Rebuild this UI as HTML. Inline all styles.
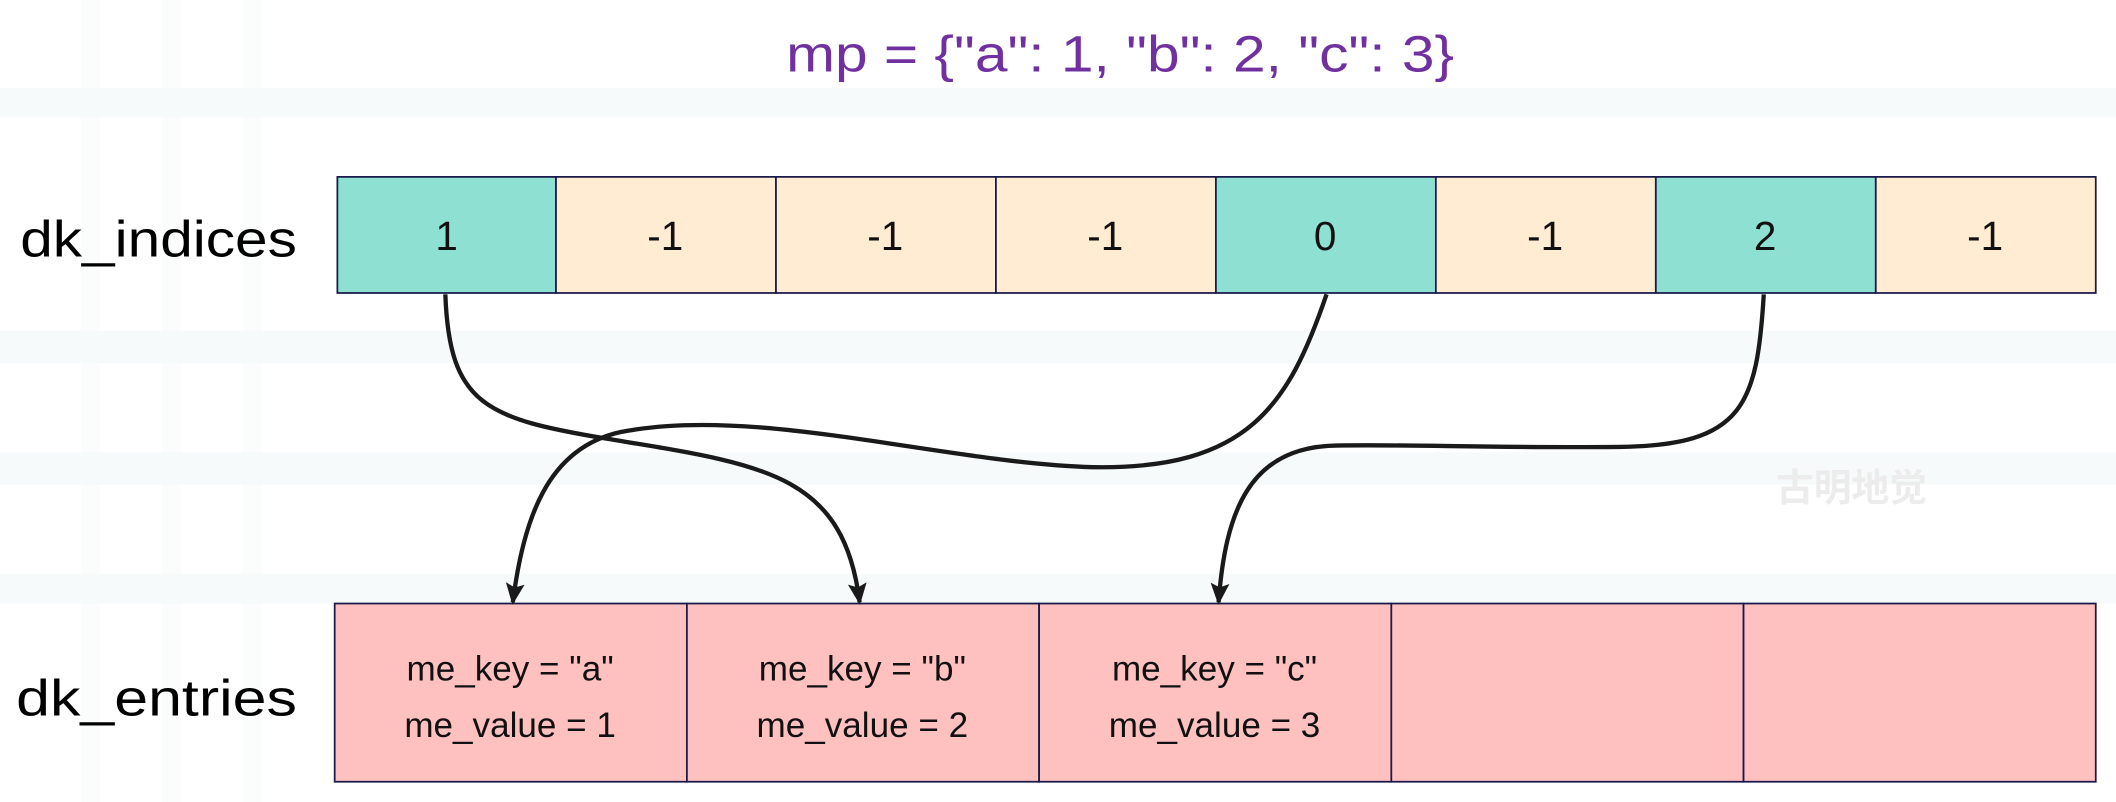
<!DOCTYPE html>
<html><head><meta charset="utf-8"><style>
html,body{margin:0;padding:0;background:#fff;}
svg{display:block;}
text{font-family:"Liberation Sans","Noto Sans CJK SC",sans-serif;}
</style></head><body>
<svg width="2116" height="802" viewBox="0 0 1568 594" preserveAspectRatio="none" xmlns="http://www.w3.org/2000/svg">
<defs>
<marker id="ah" markerWidth="16" markerHeight="14" refX="14" refY="7" orient="auto" markerUnits="userSpaceOnUse" viewBox="0 0 16 14">
<path d="M0,0 L16,7 L0,14 L3,7 z" fill="#1a1a1a"/>
</marker>
</defs>
<rect width="1568" height="594" fill="#fff"/>
<g fill="#f7fafa">
<rect x="0" y="65" width="1568" height="22"/>
<rect x="0" y="245" width="1568" height="24"/>
<rect x="0" y="335" width="1568" height="24"/>
<rect x="0" y="425" width="1568" height="22"/>
<rect x="60" y="0" width="14" height="594" opacity="0.5"/>
<rect x="120" y="0" width="14" height="594" opacity="0.5"/>
<rect x="180" y="0" width="14" height="594" opacity="0.5"/>
</g>
<text x="830" y="53" text-anchor="middle" font-size="38" fill="#7030a0" textLength="495" lengthAdjust="spacingAndGlyphs">mp = {"a": 1, "b": 2, "c": 3}</text>
<text x="15" y="190" font-size="38" fill="#000" textLength="205" lengthAdjust="spacingAndGlyphs">dk_indices</text>
<text x="12" y="530" font-size="38" fill="#000" textLength="208" lengthAdjust="spacingAndGlyphs">dk_entries</text>
<g stroke="#1a1a4a" stroke-width="1.3">
<rect x="250" y="131" width="162" height="86" fill="#8ee0d3"/>
<rect x="412" y="131" width="163" height="86" fill="#ffecd3"/>
<rect x="575" y="131" width="163" height="86" fill="#ffecd3"/>
<rect x="738" y="131" width="163" height="86" fill="#ffecd3"/>
<rect x="901" y="131" width="163" height="86" fill="#8ee0d3"/>
<rect x="1064" y="131" width="163" height="86" fill="#ffecd3"/>
<rect x="1227" y="131" width="163" height="86" fill="#8ee0d3"/>
<rect x="1390" y="131" width="163" height="86" fill="#ffecd3"/>
<rect x="248" y="447" width="261" height="132" fill="#ffc0c0"/>
<rect x="509" y="447" width="261" height="132" fill="#ffc0c0"/>
<rect x="770" y="447" width="261" height="132" fill="#ffc0c0"/>
<rect x="1031" y="447" width="261" height="132" fill="#ffc0c0"/>
<rect x="1292" y="447" width="261" height="132" fill="#ffc0c0"/>
</g>
<g font-size="30" fill="#111" text-anchor="middle">
<text x="331" y="185">1</text>
<text x="493" y="185">-1</text>
<text x="656" y="185">-1</text>
<text x="819" y="185">-1</text>
<text x="982" y="185">0</text>
<text x="1145" y="185">-1</text>
<text x="1308" y="185">2</text>
<text x="1471" y="185">-1</text>
</g>
<g font-size="26" fill="#111" text-anchor="middle">
<text x="378" y="504">me_key = "a"</text>
<text x="378" y="546">me_value = 1</text>
<text x="639" y="504">me_key = "b"</text>
<text x="639" y="546">me_value = 2</text>
<text x="900" y="504">me_key = "c"</text>
<text x="900" y="546">me_value = 3</text>
</g>
<text x="1372" y="371" text-anchor="middle" font-size="28" font-weight="bold" fill="#ececec">古明地觉</text>
<g fill="none" stroke="#1a1a1a" stroke-width="3.2" marker-end="url(#ah)">
<path d="M330,218 C333,300 360,310 450,325 C565,344 625,350 637,446"/>
<path d="M983,218 C955,300 925,348 810,346 C700,343 560,300 460,320 C405,332 388,385 380,446"/>
<path d="M1307,218 C1302,300 1292,330 1200,331 C1100,332 1050,329 990,330 C925,331 908,380 903,446"/>
</g>
</svg>
</body></html>
